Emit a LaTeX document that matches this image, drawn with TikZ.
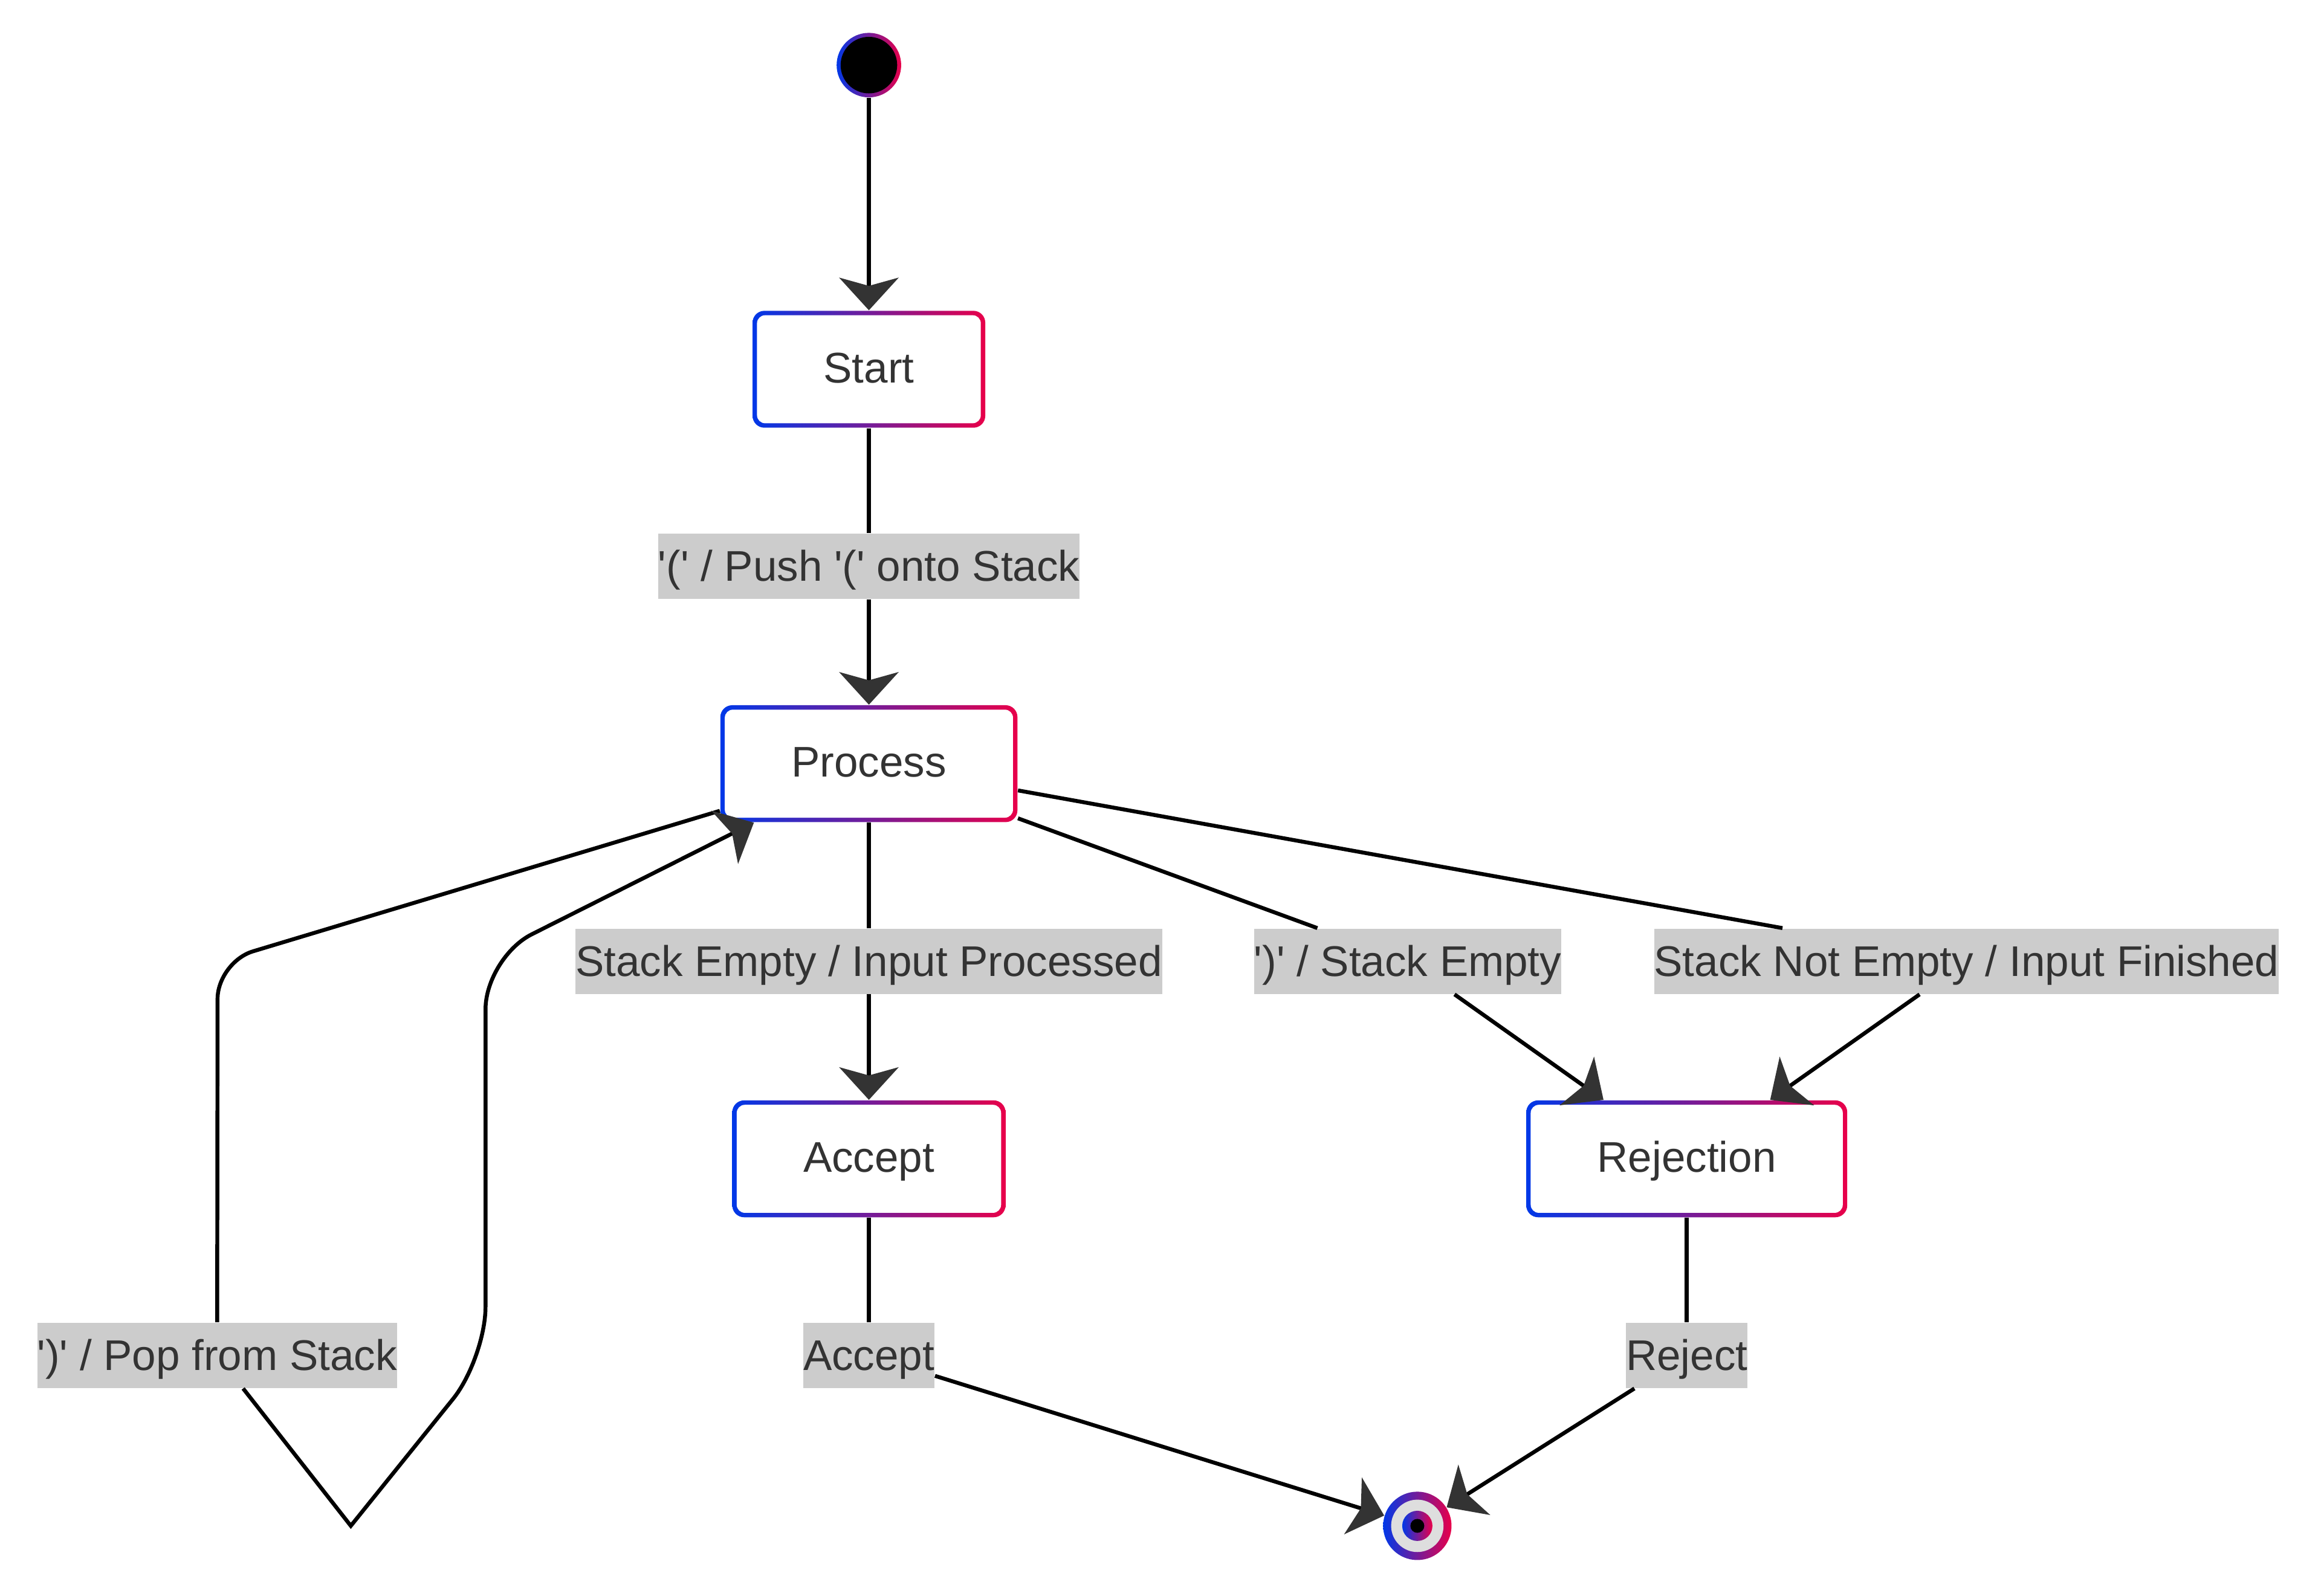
\documentclass[tikz,border=0pt]{standalone}
\usepackage{fontspec}
\setmainfont{Liberation Sans}
\usetikzlibrary{arrows.meta,positioning,shapes}
\definecolor{gradblue}{HTML}{0038E8}
\definecolor{gradred}{HTML}{E8004A}
\definecolor{txtgray}{HTML}{333333}
\definecolor{labelbg}{HTML}{CCCCCC}
\definecolor{ringgray}{HTML}{DEDEDE}
\newcommand{\sq}{\textquotesingle}

\begin{document}
\begin{tikzpicture}[x = 0.02cm, y = -0.02cm,
  every node/.style = {font=\fontsize{16.5pt}{20pt}\selectfont, text=txtgray},
  statebox/.style = {rectangle, rounded corners=0.16cm, inner xsep=0.96cm, inner ysep=0pt,
    text height=0.97cm, text depth=0.61cm, left color=gradblue, right color=gradred,
    path picture={\fill[white, rounded corners=0.11cm]
      ([shift={(0.06cm,0.06cm)}]path picture bounding box.south west) rectangle
      ([shift={(-0.06cm,-0.06cm)}]path picture bounding box.north east);}},
  initdot/.style = {circle, minimum size=0.872cm, inner sep=0pt, left color=gradblue, right color=gradred,
    path picture={\fill[black] (path picture bounding box.center) circle (0.382cm);}},
  finaldot/.style = {circle, minimum size=0.924cm, inner sep=0pt, left color=gradblue, right color=gradred,
    path picture={\fill[ringgray] (path picture bounding box.center) circle (0.354cm);
      \shade[left color=gradblue, right color=gradred] (path picture bounding box.center) circle (0.204cm);
      \fill[black] (path picture bounding box.center) circle (0.094cm);}},
  trlabel/.style = {fill=labelbg, inner xsep=0pt, inner ysep=0pt, text height=0.645cm, text depth=0.237cm},
  link/.style = {draw=black, line width=1.5pt},
  arrowlink/.style = {link, -{Stealth[length=0.44cm, width=0.8cm, inset=0.11cm, color=txtgray]}}]
\useasboundingbox (0,0) rectangle (1568,1078);

\node[initdot] (entry) at (587,44) {};
\node[statebox] (start) at (587,249.5) {Start};
\node[statebox] (process) at (587,516) {Process};
\node[statebox] (accept) at (587,783) {Accept};
\node[statebox] (rejection) at (1139.5,783) {Rejection};
\node[finaldot] (exit) at (957.5,1031) {};

\node[trlabel] (lpush) at (587,382.5) {\sq(\sq{} / Push \sq(\sq{} onto Stack};
\node[trlabel] (lempty) at (587,649.5) {Stack Empty / Input Processed};
\node[trlabel] (lclose) at (951,649.5) {\sq)\sq{} / Stack Empty};
\node[trlabel] (lnotempty) at (1328.5,649.5) {Stack Not Empty / Input Finished};
\node[trlabel] (lpop) at (146.7,915.8) {\sq)\sq{} / Pop from Stack};
\node[trlabel] (laccept) at (587,915.8) {Accept};
\node[trlabel] (lreject) at (1139.5,915.8) {Reject};

\coordinate (loopa) at (147,650);
\coordinate (loopb) at (237,1031);
\coordinate (loopc) at (328,918);
\coordinate (loopd) at (328,647);

\draw[arrowlink] (entry) -- (start);
\draw[link] (start) -- (lpush);
\draw[arrowlink] (lpush) -- (process);
\draw[link] (process) -- (lempty);
\draw[arrowlink] (lempty) -- (accept);
\draw[link] (process) -- (lclose);
\draw[arrowlink] (lclose) -- (rejection);
\draw[link] (process) -- (lnotempty);
\draw[arrowlink] (lnotempty) -- (rejection);
\draw[link, rounded corners=0.5cm] ([yshift=0.16cm]process.south west) -- (loopa) -- (lpop);
\draw[arrowlink] (lpop) -- (loopb) [rounded corners=0.7cm] -- (loopc) -- (loopd) -- ([xshift=0.46cm]process.south west);
\draw[link] (accept) -- (laccept);
\draw[arrowlink] (laccept) -- (exit);
\draw[link] (rejection) -- (lreject);
\draw[arrowlink] (lreject) -- (exit);
\end{tikzpicture}
\end{document}
